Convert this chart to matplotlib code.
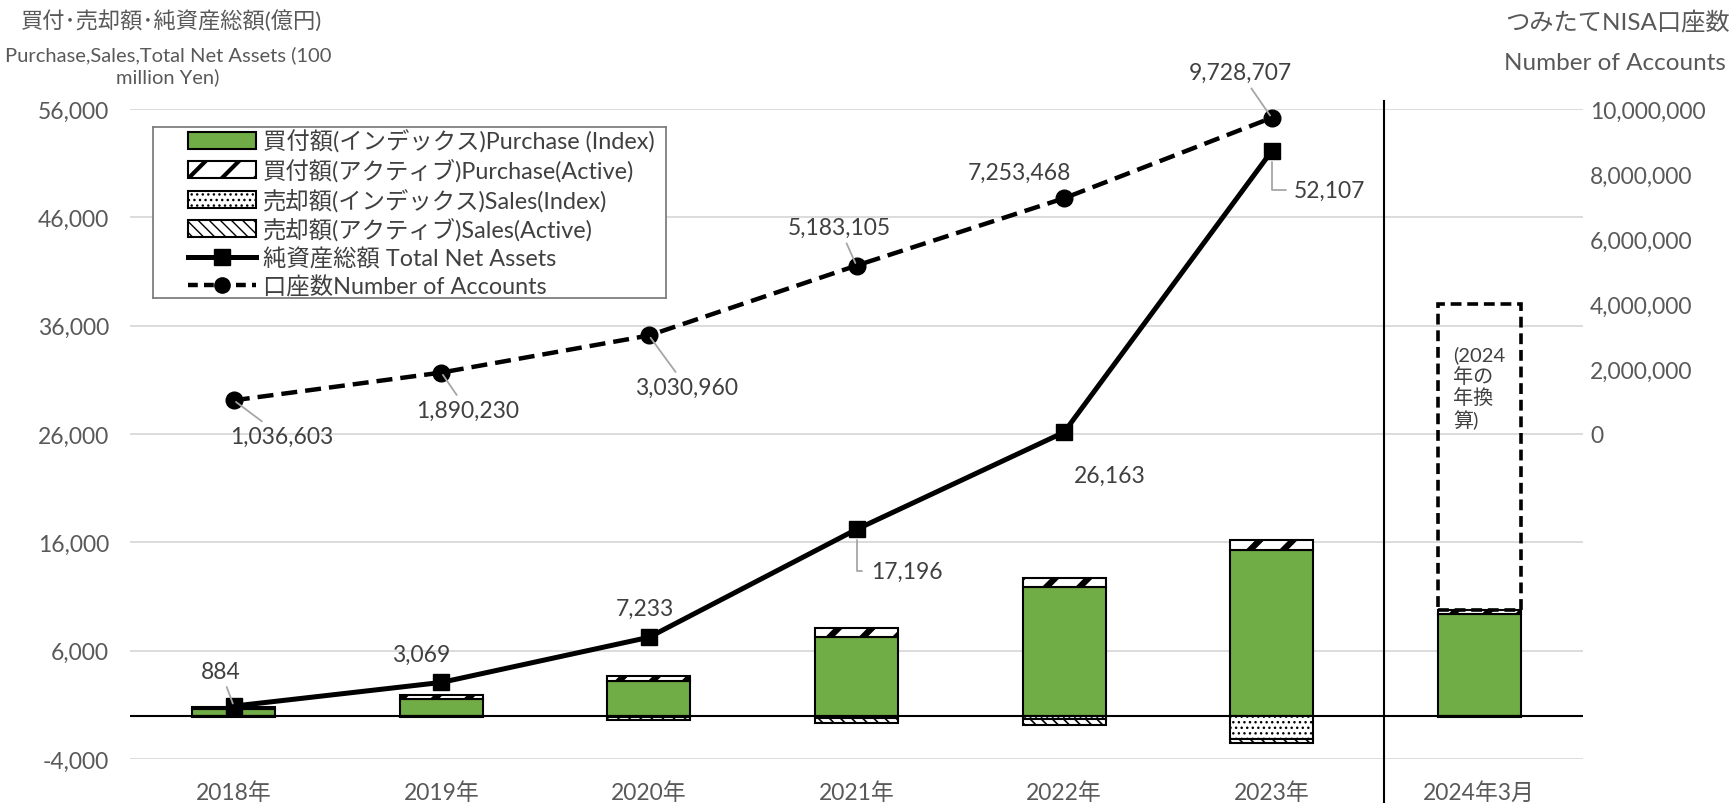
"""Tsumitate NISA: purchases/sales (bars), total net assets and number of accounts (lines)."""

import matplotlib
matplotlib.use("Agg")
import matplotlib.pyplot as plt
from matplotlib.patches import Patch
from matplotlib.lines import Line2D
from matplotlib.ticker import FuncFormatter
import matplotlib.transforms as mtransforms

FONT = ['Lato', 'Noto Sans CJK JP', 'DejaVu Sans']
plt.rcParams['font.family'] = FONT

# ---- data ----
categories = ['2018年', '2019年', '2020年', '2021年', '2022年', '2023年', '2024年3月']
purchase_index = [620, 1510, 3170, 7290, 11850, 15330, 9390]
purchase_active = [210, 390, 520, 770, 830, 890, 370]
sales_index = [-30, -50, -150, -200, -300, -2150, -60]
sales_active = [-60, -100, -280, -510, -560, -410, -40]
annualized_2024 = 38000

line_years = [0, 1, 2, 3, 4, 5]
total_net_assets = [884, 3069, 7233, 17196, 26163, 52107]
accounts = [1036603, 1890230, 3030960, 5183105, 7253468, 9728707]

# label offsets in pixels (dx, dy) and leader style
tna_offsets = [(-13, 35), (-20, 28), (-4, 29), (50, -42), (46, -43), (58, -39)]
tna_leader = [True, False, False, 'elbow', False, 'elbow']
acc_offsets = [(48, -36), (26, -38), (38, -52), (-17, 38), (-45, 26), (-31, 45)]
acc_leader = [True, True, True, True, False, True]

GREEN = '#70AD47'
TXT = '#404040'
TICK = '#595959'
GRID = '#D9D9D9'
H_ACT = '/'
H_SIDX = '...'
H_SACT = '\\\\\\'

W, H = 1736, 804
fig = plt.figure(figsize=(W / 100, H / 100), dpi=100)
ax = fig.add_axes([130 / W, 44 / H, 1453 / W, 650 / H])
ax2 = ax.twinx()

x = list(range(len(categories)))
bw = 0.4


def hatch_lw(artists, lw):
    for p in artists:
        try:
            p.set_hatch_linewidth(lw)
        except AttributeError:
            pass


b1 = ax.bar(x, purchase_index, bw, color=GREEN, edgecolor='black', linewidth=1.5, zorder=2)
b2 = ax.bar(x, purchase_active, bw, bottom=purchase_index, facecolor='white',
            edgecolor='black', linewidth=1.5, hatch=H_ACT, zorder=2)
hatch_lw(b2, 4.5)
b3 = ax.bar(x, sales_index, bw, facecolor='white', edgecolor='black', linewidth=1.5,
            hatch=H_SIDX, zorder=2)
b4 = ax.bar(x, sales_active, bw, bottom=sales_index, facecolor='white', edgecolor='black',
            linewidth=1.5, hatch=H_SACT, zorder=2)
hatch_lw(b4, 1.2)

# 2024 annualized outline
top_2024 = purchase_index[6] + purchase_active[6]
ax.bar(6, annualized_2024 - top_2024, bw, bottom=top_2024, fill=False, edgecolor='black',
       linewidth=2.6, linestyle=(0, (3, 1.6)), zorder=2)
ax.text(5.873, 34200, '(2024\n年の\n年換\n算)', ha='left', va='top', fontsize=14.5,
        color=TXT, linespacing=1.18)

ax.axhline(0, color='black', linewidth=1.5, zorder=1.5)

ax.plot(line_years, total_net_assets, color='black', linewidth=3.6, marker='s',
        markersize=12, zorder=4)
ax2.plot(line_years, accounts, color='black', linewidth=3.2, dashes=(3.6, 1.8),
         marker='o', markersize=12, zorder=4)


def label(axis, xs, ys, offs, leaders):
    for xi, yi, (dx, dy), ld in zip(xs, ys, offs, leaders):
        kw = dict(xy=(xi, yi), xytext=(dx, dy), textcoords='offset pixels',
                  ha='center', va='center', fontsize=16.5, color=TXT, zorder=5)
        if ld == 'elbow':
            kw['arrowprops'] = dict(arrowstyle='-', color='#A6A6A6', lw=1.3,
                                    connectionstyle='angle,angleA=0,angleB=90,rad=0',
                                    relpos=(0, 0.5), shrinkA=4, shrinkB=8)
        elif ld:
            kw['arrowprops'] = dict(arrowstyle='-', color='#A6A6A6', lw=1.3,
                                    shrinkA=2, shrinkB=2)
        axis.annotate(f'{yi:,}', **kw)


label(ax, line_years, total_net_assets, tna_offsets, tna_leader)
label(ax2, line_years, accounts, acc_offsets, acc_leader)

# axes
ax.set_xlim(-0.5, 6.5)
ax.set_ylim(-4000, 56000)
ax.set_yticks(range(-4000, 56001, 10000))
ax.yaxis.set_major_formatter(FuncFormatter(lambda v, p: f'{int(v):,}'))
ax.yaxis.grid(True, color=GRID, linewidth=1.3)
ax.set_axisbelow(True)
ax.set_xticks(x)
ax.set_xticklabels(categories)
ax.tick_params(axis='y', length=0, pad=15, labelsize=16.5, labelcolor=TICK)
ax.tick_params(axis='x', length=0, pad=16, labelsize=16.5, labelcolor=TICK)

ax2.set_ylim(-10_000_000, 10_000_000)
ax2.set_yticks(range(0, 10_000_001, 2_000_000))
ax2.yaxis.set_major_formatter(FuncFormatter(lambda v, p: f'{int(v):,}'))
ax2.tick_params(axis='y', length=0, pad=5, labelsize=16.5, labelcolor=TICK)

for a in (ax, ax2):
    for s in a.spines.values():
        s.set_visible(False)

# separator between 2023 and 2024
trans = mtransforms.blended_transform_factory(ax.transData, ax.transAxes)
ax.add_line(Line2D([5.54, 5.54], [-0.08, 1.012], transform=trans, color='black',
                   linewidth=1.5, clip_on=False, zorder=3))

# legend in its own framed box (Excel style, wide left margin)
lax = fig.add_axes([153 / W, 1 - 299 / H, (666 - 153) / W, (299 - 128) / H])
lax.set_xticks([])
lax.set_yticks([])
for s in lax.spines.values():
    s.set_color('#7F7F7F')
    s.set_linewidth(1.3)

handles = [
    Patch(facecolor=GREEN, edgecolor='black', linewidth=1.5),
    Patch(facecolor='white', edgecolor='black', linewidth=1.5, hatch=H_ACT),
    Patch(facecolor='white', edgecolor='black', linewidth=1.5, hatch=H_SIDX),
    Patch(facecolor='white', edgecolor='black', linewidth=1.5, hatch=H_SACT),
    Line2D([], [], color='black', linewidth=3.6, marker='s', markersize=11),
    Line2D([], [], color='black', linewidth=3.2, dashes=(2.2, 1.4), marker='o', markersize=11),
]
labels = ['買付額(インデックス)Purchase (Index)', '買付額(アクティブ)Purchase(Active)',
          '売却額(インデックス)Sales(Index)', '売却額(アクティブ)Sales(Active)',
          '純資産総額 Total Net Assets', '口座数Number of Accounts']
leg = lax.legend(handles, labels, loc='upper left', bbox_to_anchor=(188 / W, 1 - 130 / H),
                 bbox_transform=fig.transFigure, frameon=False, fontsize=16.8,
                 handlelength=2.9, handleheight=0.72, handletextpad=0.3,
                 labelspacing=0.26, borderpad=0, borderaxespad=0)
for t in leg.get_texts():
    t.set_color(TXT)
for p in leg.get_patches():
    if p.get_hatch() == H_ACT:
        hatch_lw([p], 3)

# axis titles
fig.text(172 / W, 1 - 21 / H, '買付･売却額･純資産総額(億円)', ha='center', va='center',
         fontsize=16, color=TICK)
fig.text(168 / W, 1 - 66 / H, 'Purchase,Sales,Total Net Assets (100\nmillion Yen)',
         ha='center', va='center', fontsize=14.5, color=TICK, linespacing=1.3)
fig.text(1730 / W, 1 - 22 / H, 'つみたてNISA口座数', ha='right', va='center',
         fontsize=17.5, color=TICK)
fig.text(1726 / W, 1 - 63 / H, 'Number of Accounts', ha='right', va='center',
         fontsize=17.5, color=TICK)

fig.savefig('out.png', dpi=100)
